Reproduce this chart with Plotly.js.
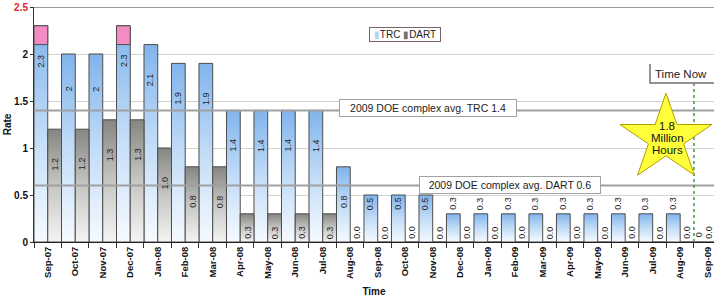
<!DOCTYPE html>
<html>
<head>
<meta charset="utf-8">
<script src="https://cdn.plot.ly/plotly-3.0.1.min.js"></script>
<style>
  html, body { margin: 0; padding: 0; background: #ffffff; }
  #chart { width: 714px; height: 299px; }
</style>
</head>
<body>
<div id="chart"></div>
<script>
// ---------------- data ----------------
const months = ['Sep-07','Oct-07','Nov-07','Dec-07','Jan-08','Feb-08','Mar-08','Apr-08','May-08','Jun-08','Jul-08','Aug-08','Sep-08','Oct-08','Nov-08','Dec-08','Jan-09','Feb-09','Mar-09','Apr-09','May-09','Jun-09','Jul-09','Aug-09','Sep-09'];
const trc  = [2.3, 2, 2, 2.3, 2.1, 1.9, 1.9, 1.4, 1.4, 1.4, 1.4, 0.8, 0.5, 0.5, 0.5, 0.3, 0.3, 0.3, 0.3, 0.3, 0.3, 0.3, 0.3, 0.3, 0];
const dart = [1.2, 1.2, 1.3, 1.3, 1.0, 0.8, 0.8, 0.3, 0.3, 0.3, 0.3, 0.0, 0.0, 0.0, 0.0, 0.0, 0.0, 0.0, 0.0, 0.0, 0.0, 0.0, 0.0, 0.0, 0.0];
const highlightMonths = ['Sep-07', 'Dec-07'];
const highlightFrom = 2.1;
const avgTRC = 1.4;
const avgDART = 0.6;
const yTickVals = [0, 0.5, 1, 1.5, 2, 2.5];
const yTickText = ['0', '0.5', '1', '1.5', '2', '<span style="color:#e8202a">2.5</span>'];
const timeNowMonth = 'Sep-09';
const starText = ['1.8', 'Million', 'Hours'];

// ---------------- geometry helpers ----------------
const L = 34, T = 7, W = 680, H = 235;
const px = x => (x - L) / W;
const py = y => (T + H - y) / H;
const FONT = '"Liberation Sans", Arial, sans-serif';

// ---------------- traces ----------------
const hlY = highlightMonths.map(m => trc[months.indexOf(m)] - highlightFrom);
const data = [
  { type: 'bar', name: 'TRC', x: months, y: trc, offsetgroup: 'trc',
    marker: { color: '#b5d3f3', line: { color: '#4d4d4d', width: 1 } }, hoverinfo: 'none' },
  { type: 'bar', name: 'DART', x: months, y: dart, offsetgroup: 'dart',
    marker: { color: '#bdbdbb', line: { color: '#4d4d4d', width: 1 } }, hoverinfo: 'none' },
  { type: 'bar', name: 'highlight', x: highlightMonths, y: hlY, base: highlightFrom, offsetgroup: 'trc',
    marker: { color: '#f28cc2', line: { color: '#4d4d4d', width: 1 } }, hoverinfo: 'none', showlegend: false }
];

// ---------------- annotations ----------------
const ann = [];
const half = 27.5 / 4;
const C = { xanchor: 'center', yanchor: 'middle', showarrow: false };
months.forEach((m, i) => {
  const t = trc[i];
  const d = dart[i];
  const ty = t === 0 ? 0.08 : Math.max(t - 0.37, 0.41);
  const dy = Math.max(d - 0.37, 0.1);
  const last = i === months.length - 1;
  ann.push(Object.assign({ x: m, y: ty, xref: 'x', yref: 'y', xshift: last ? -half - 1 : -half, text: String(t), textangle: -90,
             font: { family: FONT, size: 9, color: '#222' } }, C));
  ann.push(Object.assign({ x: m, y: dy, xref: 'x', yref: 'y', xshift: last ? 0.5 : half, text: d.toFixed(1), textangle: -90,
             font: { family: FONT, size: 9, color: '#222' } }, C));
});
// average labels
ann.push(Object.assign({ x: px(427.5), y: avgTRC, xref: 'paper', yref: 'y', yshift: 2, text: '2009 DOE complex avg. TRC ' + avgTRC,
           bgcolor: '#ffffff', bordercolor: '#a0a0a0', borderwidth: 1, borderpad: 2,
           width: 172, height: 12, font: { family: FONT, size: 10.5, color: '#222' } }, C));
ann.push(Object.assign({ x: px(509.5), y: avgDART, xref: 'paper', yref: 'y', yshift: 1, text: '2009 DOE complex avg. DART ' + avgDART,
           bgcolor: '#ffffff', bordercolor: '#a0a0a0', borderwidth: 1, borderpad: 2,
           width: 176, height: 12, font: { family: FONT, size: 10.5, color: '#222' } }, C));
// legend
ann.push(Object.assign({ x: px(405.5), y: py(35), xref: 'paper', yref: 'paper',
           text: '<span style="color:#b5d3f3">▮</span>TRC <span style="color:#707070">▮</span>DART',
           bgcolor: '#ffffff', bordercolor: '#7a6468', borderwidth: 1, borderpad: 1,
           width: 68, font: { family: FONT, size: 10, color: '#222' } }, C));
// time now label
ann.push(Object.assign({ x: px(681), y: py(74), xref: 'paper', yref: 'paper', text: 'Time Now',
           font: { family: FONT, size: 11.5, color: '#222' } }, C));
// star text
starText.forEach((s, k) => {
  ann.push(Object.assign({ x: px(667), y: py(126 + 12 * k), xref: 'paper', yref: 'paper', text: s,
             font: { family: FONT, size: 11.5, color: '#111' } }, C));
});

// ---------------- shapes ----------------
const shapes = [];
shapes.push({ type: 'line', xref: 'paper', yref: 'y', x0: 0, x1: 1, y0: 2.5, y1: 2.5,
              line: { color: '#9a9a9a', width: 2 }, layer: 'above' });
shapes.push({ type: 'line', xref: 'paper', yref: 'y', x0: 0, x1: 1, y0: avgTRC, y1: avgTRC,
              line: { color: '#a0a0a0', width: 2 }, layer: 'above' });
shapes.push({ type: 'line', xref: 'paper', yref: 'y', x0: 0, x1: 1, y0: avgDART, y1: avgDART,
              line: { color: '#a0a0a0', width: 2 }, layer: 'above' });
// time now marker
const tn = months.indexOf(timeNowMonth) - 0.5;
shapes.push({ type: 'line', xref: 'x', yref: 'y', x0: tn, x1: tn, y0: 0, y1: (T + H - 83) / H * 2.5,
              line: { color: '#3d9a3d', width: 1.5, dash: 'dot' }, layer: 'above' });
shapes.push({ type: 'path', xref: 'paper', yref: 'paper',
              path: `M ${px(650)},${py(64)} L ${px(650)},${py(83)} L ${px(716)},${py(83)}`,
              line: { color: '#707070', width: 1.5 }, layer: 'above' });
// star
(function () {
  const cx = 666, cy = 138.5, rx = 48.4, ry = 45.3, ratio = 0.382;
  let p = '';
  for (let k = 0; k < 10; k++) {
    const a = -Math.PI / 2 + k * Math.PI / 5;
    const r = k % 2 === 0 ? 1 : ratio;
    const X = cx + rx * r * Math.cos(a), Y = cy + ry * r * Math.sin(a);
    p += (k === 0 ? 'M ' : ' L ') + px(X).toFixed(4) + ',' + py(Y).toFixed(4);
  }
  shapes.push({ type: 'path', xref: 'paper', yref: 'paper', path: p + ' Z',
                fillcolor: '#ffff3a', line: { color: '#b59d00', width: 1 }, layer: 'above' });
})();

// ---------------- layout ----------------
const layout = {
  width: 714, height: 299,
  margin: { l: L, r: 0, t: T, b: 299 - T - H, pad: 0 },
  paper_bgcolor: '#ffffff', plot_bgcolor: '#ffffff',
  barmode: 'group', bargap: 0, bargroupgap: 0,
  showlegend: false,
  font: { family: FONT, color: '#111' },
  xaxis: {
    type: 'category', range: [-0.5, 24.23], tickson: 'boundaries',
    ticks: 'outside', ticklen: 5, tickcolor: '#333', tickwidth: 1,
    showline: true, linecolor: '#222', linewidth: 1, showgrid: false, zeroline: false,
    tickangle: -90, tickfont: { family: FONT, size: 9.5, weight: 'bold', color: '#111' },
    title: { text: 'Time', font: { family: FONT, size: 10, weight: 'bold', color: '#111' }, standoff: 9 },
    automargin: false, fixedrange: true
  },
  yaxis: {
    range: [0, 2.5], tickvals: yTickVals, ticktext: yTickText,
    showgrid: true, gridcolor: '#d2d2d2', gridwidth: 1, zeroline: false,
    showline: true, linecolor: '#333', linewidth: 1, ticks: 'outside', ticklen: 3, tickcolor: '#333',
    tickfont: { family: FONT, size: 10, weight: 'bold', color: '#111' },
    title: { text: 'Rate', font: { family: FONT, size: 10, weight: 'bold', color: '#111' }, standoff: 0 },
    automargin: false, fixedrange: true
  },
  annotations: ann,
  shapes: shapes
};

const gd = document.getElementById('chart');
Plotly.newPlot(gd, data, layout, { displayModeBar: false, staticPlot: true, responsive: false }).then(function () {
  const NS = 'http://www.w3.org/2000/svg';
  const svg = gd.querySelector('svg.main-svg');
  const defs = document.createElementNS(NS, 'defs');
  function grad(id, stops) {
    const g = document.createElementNS(NS, 'linearGradient');
    g.setAttribute('id', id);
    g.setAttribute('x1', '0'); g.setAttribute('y1', '0');
    g.setAttribute('x2', '0'); g.setAttribute('y2', '1');
    stops.forEach(s => {
      const st = document.createElementNS(NS, 'stop');
      st.setAttribute('offset', s[0]);
      st.setAttribute('stop-color', s[1]);
      g.appendChild(st);
    });
    defs.appendChild(g);
  }
  grad('gradTRC', [['0', '#80b4ec'], ['0.5', '#c2dcf7'], ['1', '#f6faff']]);
  grad('gradDART', [['0', '#858581'], ['0.5', '#c6c6c4'], ['1', '#f4f4f4']]);
  svg.insertBefore(defs, svg.firstChild);
  const traces = gd.querySelectorAll('.barlayer .trace');
  if (traces[0]) traces[0].querySelectorAll('path').forEach(p => { p.style.fill = 'url(#gradTRC)'; });
  if (traces[1]) traces[1].querySelectorAll('path').forEach(p => { p.style.fill = 'url(#gradDART)'; });
});
</script>
</body>
</html>
